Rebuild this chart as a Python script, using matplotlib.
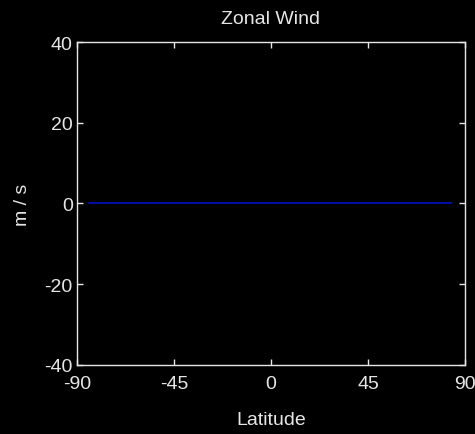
import matplotlib
matplotlib.use("Agg")
import matplotlib.pyplot as plt

# Data
latitude = [-84.4, -60.0, -30.0, 0.0, 30.0, 60.0, 83.6]
zonal_wind = [0.0, 0.0, 0.0, 0.0, 0.0, 0.0, 0.0]
xticks = [-90, -45, 0, 45, 90]
yticks = [-40, -20, 0, 20, 40]

fg = "#e6e6e6"
plt.rcParams['font.family'] = ['Liberation Sans', 'DejaVu Sans']
plt.rcParams['axes.unicode_minus'] = False

fig = plt.figure(figsize=(4.75, 4.35), dpi=100, facecolor="black")
ax = fig.add_axes([0.162, 0.159, 0.817, 0.742], facecolor="black")
ax.plot(latitude, zonal_wind, color="#0010b8", linewidth=1.3)
ax.set_xlim(-90, 90)
ax.set_ylim(-40, 40)
ax.set_xticks(xticks)
ax.set_yticks(yticks)
for s in ax.spines.values():
    s.set_color(fg)
    s.set_linewidth(1.0)
ax.tick_params(direction="in", length=4, width=1, color=fg, labelcolor=fg,
               labelsize=14, top=True, right=True, pad=3)
ax.tick_params(axis="x", pad=7)
ax.set_title("Zonal Wind", color=fg, fontsize=14, pad=14)
ax.set_xlabel("Latitude", color=fg, fontsize=14, labelpad=14)
ax.set_ylabel("m / s", color=fg, fontsize=14, labelpad=10)
fig.savefig("out.png", dpi=100, facecolor="black")
